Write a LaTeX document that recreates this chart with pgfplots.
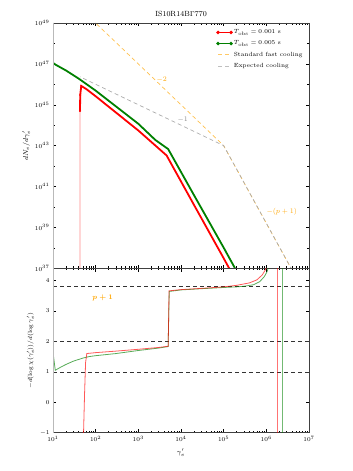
\documentclass[border=0pt]{standalone}
\usepackage{amsmath}
\usepackage{pgfplots}
\pgfplotsset{compat=1.18}

\definecolor{mplgreen}{RGB}{0,128,0}
\definecolor{mplorange}{RGB}{255,165,0}

\pgfplotsset{
  shortleg/.style={legend image code/.code={\draw[##1] plot coordinates {(0bp,0bp) (13bp,0bp)};}},
  shortdash/.style={legend image code/.code={\draw[##1] (0bp,0bp) -- (13bp,0bp);}},
}

\begin{document}
\begin{tikzpicture}
\path[use as bounding box] (0bp,0bp) rectangle (353bp,471bp);
\pgfplotsset{
  every axis/.append style={
    scale only axis, width=256bp,
    xmode=log, xmin=10, xmax=1e7,
    xtick={10,100,1000,1e4,1e5,1e6,1e7},
    tick align=inside, xtick pos=both, ytick pos=both,
    major tick length=3.5bp, minor tick length=2bp,
    every tick/.style={black, line width=0.5pt},
    axis line style={line width=0.8pt, black!75},
    font=\fontsize{6.5}{7.5}\selectfont,
    clip=true,
  },
}
% ---------------- upper panel: spectra ----------------
\begin{axis}[
  at={(53bp,202.7bp)}, anchor=south west, height=245.3bp,
  ymode=log, ymin=1e37, ymax=1e49,
  ytick={1e37,1e39,1e41,1e43,1e45,1e47,1e49},
  minor ytick={1e38,1e40,1e42,1e44,1e46,1e48},
  xticklabels={},
  title={IS10R14B$\Gamma$770},
  title style={font=\fontsize{7.5}{8}\selectfont, yshift=-3bp},
  ylabel={$dN_e/d\gamma'_e$},
  ylabel style={font=\fontsize{7}{8}\selectfont, yshift=-2bp},
  legend style={at={(0.995,0.99)}, anchor=north east, draw=none, fill=none,
    font=\fontsize{6}{7}\selectfont, row sep=1.6bp,
    legend cell align=left},
]
\addlegendimage{red, line width=1.4pt, mark=*, mark size=0.9bp, shortleg}
\addlegendentry{$T_{\rm obs}=0.001$ s}
\addlegendimage{mplgreen, line width=1.4pt, mark=*, mark size=0.9bp, shortleg}
\addlegendentry{$T_{\rm obs}=0.005$ s}
\addlegendimage{mplorange!60, line width=0.8pt, dash pattern=on 4bp off 3bp, shortdash}
\addlegendentry{Standard fast cooling}
\addlegendimage{gray!50, line width=0.8pt, dash pattern=on 4bp off 3bp, shortdash}
\addlegendentry{Expected cooling}

% standard fast cooling
\addplot[forget plot, mplorange!70, line width=0.7pt, dash pattern=on 4bp off 3bp] coordinates {
  (80,1.55e49) (1e5,1e43) (3.8e6,1e37) (1e7,2.5e35)
};
% expected cooling
\addplot[forget plot, gray!65, line width=0.7pt, dash pattern=on 4bp off 3bp, dash phase=3.5bp] coordinates {
  (43,2.33e46) (1e5,1e43) (3.8e6,1e37) (1e7,2.5e35)
};
% T_obs = 0.005 s
\addplot[forget plot, mplgreen, line width=1.8pt] coordinates {
  (10,1.12e47) (11.5,9.1e46) (20,4.8e46) (40,1.9e46) (100,4.9e45)
  (1000,1.17e44) (2500,1.9e43) (5000,6.8e42) (2e4,3.9e40)
  (1e5,1.02e38) (1.8e5,1.1e37) (4e5,5e35)
};
% T_obs = 0.001 s : faint rise
\addplot[forget plot, red!45, line width=0.7pt] coordinates {
  (42.6,1e30) (43,5e44)
};
% T_obs = 0.001 s
\addplot[forget plot, red, line width=1.8pt] coordinates {
  (43,5e44) (43.4,3.0e45) (46,8.3e45) (60,5.9e45) (100,2.6e45)
  (1000,5.5e43) (4600,3.3e42) (2e4,1.3e40) (1e5,3.1e37) (1.4e5,8.6e36) (4e5,1.5e35)
};
\addplot[forget plot, red, only marks, mark=*, mark size=0.9bp] coordinates {
  (43,5e44) (43.4,3.0e45) (46,8.3e45)
};
\draw[gray!55, line width=1.4pt] (axis cs:10,1e37) -- (axis cs:10,1e49);
\node[text=mplorange, font=\fontsize{7}{8}\selectfont] at (axis cs:3550,1.66e46) {$-2$};
\node[text=gray, font=\fontsize{7}{8}\selectfont] at (axis cs:1.1e4,1.8e44) {$-1$};
\node[text=mplorange, font=\fontsize{7}{8}\selectfont] at (axis cs:2.3e6,5.8e39) {$-(p+1)$};
\end{axis}

% ---------------- lower panel: local slope ----------------
\begin{axis}[
  at={(53bp,38.3bp)}, anchor=south west, height=164.4bp,
  ymin=-1, ymax=4.4,
  ytick={-1,0,1,2,3,4},
  xlabel={$\gamma'_e$},
  xlabel style={font=\fontsize{7}{8}\selectfont},
  ylabel={$-d(\log\chi(\gamma'_e))/d(\log\gamma'_e)$},
  ylabel style={font=\fontsize{6.5}{7.5}\selectfont, yshift=-1bp},
]
\addplot[black!80, line width=0.6pt, dash pattern=on 4bp off 3bp] coordinates {(10,1) (1e7,1)};
\addplot[black!80, line width=0.6pt, dash pattern=on 4bp off 3bp] coordinates {(10,2) (1e7,2)};
\addplot[black!80, line width=0.6pt, dash pattern=on 4bp off 3bp] coordinates {(10,3.8) (1e7,3.8)};
% T_obs = 0.005 s
\addplot[mplgreen, opacity=0.65, line width=0.8pt] coordinates {
  (10,2.0) (10.3,1.5) (11.3,1.05) (15,1.15) (20,1.24) (30,1.35) (50,1.45)
  (70,1.5) (100,1.53) (300,1.6) (1000,1.7) (3000,1.78) (5000,1.83)
  (5100,2.5) (5300,3.64) (1e4,3.69) (3e4,3.73) (1e5,3.77) (2e5,3.79)
  (3e5,3.81) (5e5,3.86) (7e5,3.96) (9e5,4.13) (1.05e6,4.3) (1.15e6,4.5)
};
\addplot[mplgreen, opacity=0.55, line width=1.1pt] coordinates {(2.35e6,4.6) (2.35e6,-1.5)};
% T_obs = 0.001 s
\addplot[red, opacity=0.65, line width=0.8pt] coordinates {
  (50,-1.5) (52,-1) (55,0.3) (58,1.3) (62,1.6) (100,1.63) (300,1.68)
  (1000,1.74) (3000,1.8) (5000,1.84) (5100,2.5) (5250,3.66) (1e4,3.7)
  (3e4,3.74) (1e5,3.79) (2e5,3.84) (4e5,3.92) (6e5,4.02) (8e5,4.18)
  (9.5e5,4.35) (1.05e6,4.5)
};
\addplot[red, opacity=0.55, line width=1.1pt] coordinates {(1.8e6,4.6) (1.8e6,-1.5)};
\draw[gray!55, line width=1.4pt] (axis cs:10,-1) -- (axis cs:10,4.4);
\node[text=mplorange, font=\fontsize{7}{8}\selectfont] at (rel axis cs:0.194,0.822) {$\boldsymbol{p+1}$};
\end{axis}
\end{tikzpicture}
\end{document}
